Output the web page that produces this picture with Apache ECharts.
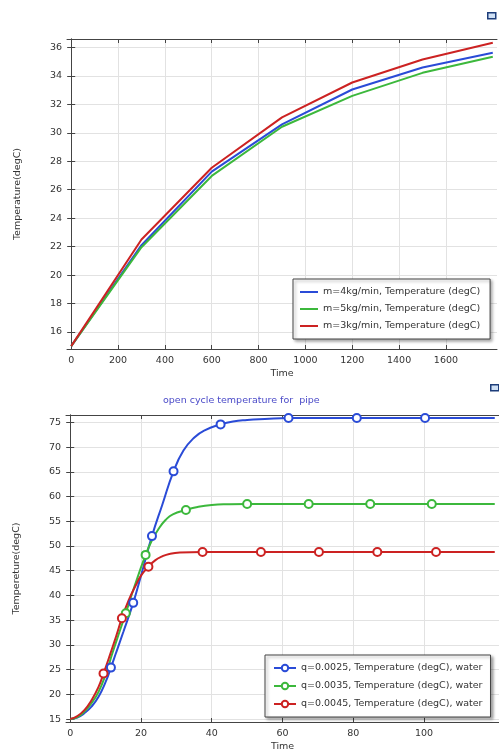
<!DOCTYPE html>
<html>
<head>
<meta charset="UTF-8">
<title>pipe temperature</title>
<script src="https://cdn.jsdelivr.net/npm/echarts@6/dist/echarts.min.js"></script>
<style>
  html, body { margin: 0; padding: 0; background: #fff; }
  #main { width: 499px; height: 753px; }
</style>
</head>
<body>
<div id="main"></div>
<script>
  // top chart: temperature vs time for three mass flows
  var mTime = [0, 300, 600, 900, 1200, 1500, 1800];
  var m4Temp = [15, 22.1, 27.27, 30.6, 33.05, 34.6, 35.63];
  var m5Temp = [15, 21.96, 26.97, 30.43, 32.6, 34.22, 35.35];
  var m3Temp = [15, 22.5, 27.55, 31.09, 33.54, 35.16, 36.33];
  var mNames = ['m=4kg/min, Temperature (degC)', 'm=5kg/min, Temperature (degC)', 'm=3kg/min, Temperature (degC)'];
  var topXTicks = [0, 200, 400, 600, 800, 1000, 1200, 1400, 1600];
  var topYTicks = [16, 18, 20, 22, 24, 26, 28, 30, 32, 34, 36];

  // bottom chart: open cycle, curve points + marker points
  var q25LineT = [0, 2, 4, 6, 8, 10, 13, 15, 20, 26, 32, 35, 38, 46, 50, 55, 120];
  var q25LineV = [15, 15.3, 16.2, 17.5, 19.5, 22.5, 28.5, 32.6, 44, 58.3, 69.3, 71.9, 73.4, 75.2, 75.5, 75.7, 75.9];
  var q25MarkT = [11.5, 17.8, 23.1, 29.2, 42.5, 61.7, 81, 100.3];
  var q25MarkV = [25.4, 38.5, 52.0, 65.1, 74.6, 75.9, 75.9, 75.9];

  var q35LineT = [0, 2, 4, 6, 8, 10, 12, 14, 18, 23, 25, 27, 29, 36, 40, 45, 120];
  var q35LineV = [15, 15.4, 16.5, 18.2, 20.5, 24, 28.5, 32.8, 41.5, 51, 53.5, 55.3, 56.4, 57.9, 58.3, 58.45, 58.5];
  var q35MarkT = [15.7, 21.3, 32.7, 50, 67.4, 84.8, 102.2];
  var q35MarkV = [36.4, 48.2, 57.3, 58.5, 58.5, 58.5, 58.5];

  var q45LineT = [0, 2, 4, 6, 8, 11, 13, 16.5, 18.5, 20, 24, 26, 28, 31, 120];
  var q45LineV = [15, 15.6, 16.8, 18.8, 21.5, 27.5, 31.8, 39, 42, 44, 47.1, 47.9, 48.4, 48.7, 48.8];
  var q45MarkT = [9.4, 14.6, 22.1, 37.4, 53.9, 70.3, 86.8, 103.4];
  var q45MarkV = [24.2, 35.4, 45.8, 48.8, 48.8, 48.8, 48.8, 48.8];

  var qNames = ['q=0.0025, Temperature (degC), water', 'q=0.0035, Temperature (degC), water', 'q=0.0045, Temperature (degC), water'];
  var botXTicks = [0, 20, 40, 60, 80, 100];
  var botYTicks = [15, 20, 25, 30, 35, 40, 45, 50, 55, 60, 65, 70, 75];

  var BLUE = '#2a4bd7', GREEN = '#3cb83c', RED = '#cc2222';
  var FONT = 'DejaVu Sans';

  function pairs(t, v) {
    return t.map(function (x, i) { return [x, v[i]]; });
  }

  // merge curve and marker points, markers keep the series symbol
  function withMarks(lt, lv, mt, mv) {
    var pts = lt.map(function (t, i) { return { value: [t, lv[i]], symbol: 'none' }; })
      .concat(mt.map(function (t, i) { return { value: [t, mv[i]] }; }));
    pts.sort(function (a, b) { return a.value[0] - b.value[0]; });
    return pts;
  }

  function plain(v) { return String(v); }

  function xAxes(grid, min, max, ticks) {
    var base = {
      type: 'value', gridIndex: grid, min: min, max: max,
      axisLine: { lineStyle: { color: '#444', width: 1 } },
      axisTick: { inside: true, length: 4, customValues: ticks, lineStyle: { color: '#444' } },
      splitLine: { show: true, lineStyle: { color: '#e2e2e2' } }
    };
    var bottom = Object.assign({}, base, {
      position: 'bottom',
      name: 'Time', nameLocation: 'middle', nameGap: 20,
      nameTextStyle: { fontFamily: FONT, fontSize: 9.5, color: '#333' },
      axisLabel: { customValues: ticks, formatter: plain, fontFamily: FONT, fontSize: 9.5, color: '#333', margin: 7 }
    });
    var top = Object.assign({}, base, {
      position: 'top',
      axisLabel: { show: false },
      splitLine: { show: false }
    });
    return [bottom, top];
  }

  function yAxes(grid, min, max, ticks, name) {
    var base = {
      type: 'value', gridIndex: grid, min: min, max: max,
      axisLine: { show: true, lineStyle: { color: '#444', width: 1 } },
      axisTick: { show: true, inside: true, length: 4, customValues: ticks, lineStyle: { color: '#444' } },
      splitLine: { show: true, lineStyle: { color: '#e2e2e2' } }
    };
    var left = Object.assign({}, base, {
      position: 'left',
      name: name, nameLocation: 'middle', nameGap: 44,
      nameTextStyle: { fontFamily: FONT, fontSize: 9.5, color: '#333' },
      axisLabel: { customValues: ticks, formatter: plain, fontFamily: FONT, fontSize: 9.5, color: '#333', margin: 5 }
    });
    var right = Object.assign({}, base, {
      position: 'right',
      axisLabel: { show: false },
      splitLine: { show: false }
    });
    return [left, right];
  }

  function qSeries(name, color, data) {
    return {
      name: name, type: 'line', xAxisIndex: 2, yAxisIndex: 2,
      symbol: 'emptyCircle', symbolSize: 8, showAllSymbol: true,
      smooth: 0.5, color: color, lineStyle: { width: 2 }, itemStyle: { borderWidth: 2 },
      data: data
    };
  }

  var myChart = echarts.init(document.getElementById('main'));
  var option = {
    animation: false,
    backgroundColor: '#fff',
    title: {
      text: 'open cycle temperature for  pipe',
      left: 158, top: 391,
      textStyle: { fontFamily: FONT, fontSize: 9.5, fontWeight: 'normal', color: '#4a4ac8' }
    },
    grid: [
      { left: 67, right: 2, top: 39, height: 310 },
      { left: 66, right: 0, top: 415, height: 310 }
    ],
    xAxis: xAxes(0, -18, 1818, topXTicks).concat(xAxes(1, -1.2, 121.2, botXTicks)),
    yAxis: yAxes(0, 14.8, 36.6, topYTicks, 'Temperature(degC)').concat(yAxes(1, 14.4, 76.5, botYTicks, 'Tempereture(degC)')),
    legend: [
      {
        orient: 'vertical', left: 293, top: 279,
        data: mNames,
        icon: 'rect',
        itemWidth: 18, itemHeight: 2, itemGap: 7,
        padding: [8, 10, 8, 7],
        backgroundColor: '#fff', borderColor: '#444', borderWidth: 1,
        shadowColor: 'rgba(0,0,0,0.35)', shadowBlur: 3, shadowOffsetX: 2, shadowOffsetY: 2,
        textStyle: { fontFamily: FONT, fontSize: 9.5, color: '#333' }
      },
      {
        orient: 'vertical', left: 265, top: 655,
        data: qNames,
        itemWidth: 22, itemHeight: 8, itemGap: 8,
        padding: [8, 8, 8, 8],
        backgroundColor: '#fff', borderColor: '#444', borderWidth: 1,
        shadowColor: 'rgba(0,0,0,0.35)', shadowBlur: 3, shadowOffsetX: 2, shadowOffsetY: 2,
        textStyle: { fontFamily: FONT, fontSize: 9.5, color: '#333' }
      }
    ],
    graphic: [
      { type: 'rect', left: 487, top: 12, shape: { width: 8, height: 6 }, style: { fill: '#cfe0f5', stroke: '#1d3d7a', lineWidth: 1.5 } },
      { type: 'rect', left: 490, top: 384, shape: { width: 8, height: 6 }, style: { fill: '#cfe0f5', stroke: '#1d3d7a', lineWidth: 1.5 } }
    ],
    series: [
      { name: mNames[0], type: 'line', xAxisIndex: 0, yAxisIndex: 0, symbol: 'none', color: BLUE, lineStyle: { width: 2 }, data: pairs(mTime, m4Temp) },
      { name: mNames[1], type: 'line', xAxisIndex: 0, yAxisIndex: 0, symbol: 'none', color: GREEN, lineStyle: { width: 2 }, data: pairs(mTime, m5Temp) },
      { name: mNames[2], type: 'line', xAxisIndex: 0, yAxisIndex: 0, symbol: 'none', color: RED, lineStyle: { width: 2 }, data: pairs(mTime, m3Temp) },
      qSeries(qNames[0], BLUE, withMarks(q25LineT, q25LineV, q25MarkT, q25MarkV)),
      qSeries(qNames[1], GREEN, withMarks(q35LineT, q35LineV, q35MarkT, q35MarkV)),
      qSeries(qNames[2], RED, withMarks(q45LineT, q45LineV, q45MarkT, q45MarkV))
    ]
  };
  myChart.setOption(option);
</script>
</body>
</html>
